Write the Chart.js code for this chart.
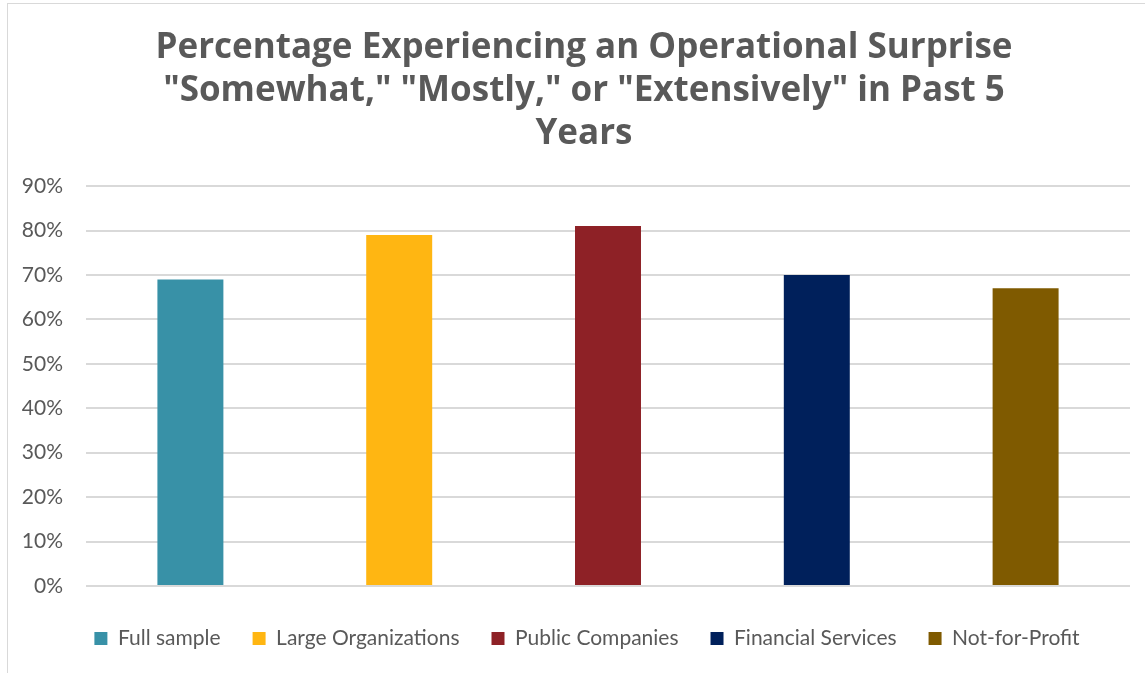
<!DOCTYPE html>
<html>
<head>
<meta charset="utf-8">
<script src="https://cdn.jsdelivr.net/npm/chart.js@4.4.1/dist/chart.umd.min.js"></script>
<style>
    html, body { margin: 0; padding: 0; background: #fff; overflow: hidden; }
    #frame {
        position: absolute; left: 7px; top: 3px; width: 1154px; height: 690px;
        border: 1.5px solid #d9d9d9; box-sizing: border-box;
    }
    #wrap { position: absolute; left: 7px; top: 3px; width: 1154px; height: 677px; }
</style>
</head>
<body>
<div id="frame"></div>
<div id="wrap"><canvas id="chart"></canvas></div>
<script>
const categories = ['Full sample', 'Large Organizations', 'Public Companies', 'Financial Services', 'Not-for-Profit'];
const values = [69, 79, 81, 70, 67];
const colors = ['#3891a7', '#ffb612', '#8e2126', '#00205b', '#7f5a00'];
const yTicks = [0, 10, 20, 30, 40, 50, 60, 70, 80, 90];
const titleLines = ['Percentage Experiencing an Operational Surprise', '"Somewhat," "Mostly," or "Extensively" in Past 5', 'Years'];

const grey = '#595959';
const fontFamily = 'Lato, "Open Sans", sans-serif';

const datasets = categories.map((name, i) => ({
    label: name,
    data: categories.map((c, j) => (j === i ? values[i] : null)),
    backgroundColor: colors[i],
    borderWidth: 0,
    barPercentage: 1,
    categoryPercentage: 0.316
}));

// move a layout box sideways so that its middle sits at x
function centreBox(box, x) {
    const shift = x - (box.left + box.right) / 2;
    box.left += shift;
    box.right += shift;
}

const centreBlocks = {
    id: 'centreBlocks',
    afterLayout(chart) {
        if (chart.titleBlock) centreBox(chart.titleBlock, 577);
        if (chart.legend) centreBox(chart.legend, 580);
    }
};

new Chart(document.getElementById('chart'), {
    type: 'bar',
    data: { labels: categories, datasets: datasets },
    plugins: [centreBlocks],
    options: {
        responsive: true,
        maintainAspectRatio: false,
        animation: false,
        skipNull: true,
        layout: { padding: { left: 8, right: 31, top: 0, bottom: 21 } },
        scales: {
            x: {
                ticks: { display: false },
                grid: { display: false },
                border: { display: false },
                afterFit: (axis) => { axis.height = 10; }
            },
            y: {
                min: 0,
                max: 90,
                afterBuildTicks: (axis) => { axis.ticks = yTicks.map(v => ({ value: v })); },
                afterFit: (axis) => { axis.width = 71; },
                ticks: {
                    color: grey,
                    padding: 23,
                    font: { family: fontFamily, size: 21 },
                    callback: (v) => v + '%'
                },
                grid: { color: '#d9d9d9', lineWidth: 2, drawTicks: false },
                border: { display: false }
            }
        },
        plugins: {
            title: {
                display: true,
                text: titleLines,
                color: grey,
                font: { family: '"Open Sans", Lato, sans-serif', size: 35, weight: 'bold', lineHeight: 1.22 },
                padding: { top: 24, bottom: 31 }
            },
            legend: {
                position: 'bottom',
                labels: {
                    color: grey,
                    boxWidth: 13,
                    boxHeight: 13,
                    padding: 32,
                    font: { family: fontFamily, size: 21 }
                }
            },
            tooltip: { enabled: false }
        }
    }
});
</script>
</body>
</html>
